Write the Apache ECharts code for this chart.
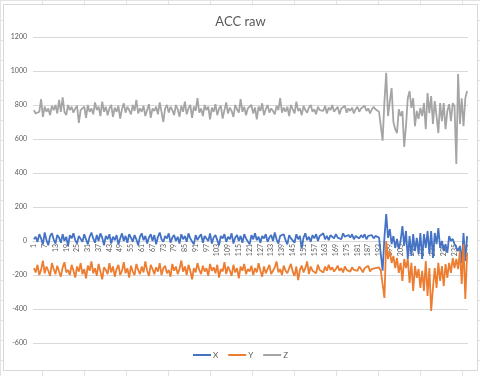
<!DOCTYPE html>
<html>
<head>
<meta charset="utf-8">
<script src="https://cdn.jsdelivr.net/npm/echarts@6/dist/echarts.min.js"></script>
<style>
    html, body { margin: 0; padding: 0; }
    body {
        width: 480px; height: 376px; overflow: hidden;
        background-color: #fff;
        background-image:
            linear-gradient(to right, #e3e3e3 1px, transparent 1px),
            linear-gradient(to bottom, #e3e3e3 1px, transparent 1px);
        background-size: 42px 20px;
        position: relative;
    }
    #chart {
        position: absolute; left: 3px; top: 4px;
        width: 473px; height: 365px;
        background: #fff; border: 1px solid #d9d9d9;
    }
</style>
</head>
<body>
<div id="chart"></div>
<script>
const seriesNames = ['X', 'Y', 'Z'];
const seriesColors = ['#4472C4', '#ED7D31', '#A5A5A5'];
const yTicks = { min: -600, max: 1200, step: 200 };

const xVals = [
    10, 25, -5, 40, 15, -20, 50, 5, -25, 30, 45, 10, -15, 35, 20, -10, 40, 0, 25, -30,
    35, 15, 45, 5, -15, 30, 20, -5, 40, 10, -20, 25, 50, 15, -10, 35, 0, 45, 20, -25,
    30, 10, 40, -15, 25, 5, 35, -20, 15, 45, 0, 30, -10, 40, 20, -5, 35, 10, -25, 25,
    45, 5, 30, -15, 20, 40, 0, 35, -20, 25, 50, 10, -5, 30, 15, 45, -10, 20, 35, 0,
    25, -15, 40, 10, 30, -5, 45, 15, 20, -20, 35, 5, 25, 40, -10, 30, 15, 0, 45, -15,
    20, 35, 5, -25, 30, 15, 40, -5, 25, 10, 45, -15, 20, 35, 0, 30, -10, 40, 15, 25,
    -20, 35, 10, 45, 5, 25, -10, 30, 15, 40, -5, 20, 35, 0, 50, 10, -15, 30, 20, 40,
    5, -20, 35, 15, 25, -10, 40, 10, 30, -45, 20, 45, 5, 25, -5, 35, 15, 40, 0, 30,
    20, 45, 10, 30, 5, 35, 25, 15, 40, 20, 30, 10, 45, 25, 15, 35, 20, 40, 10, 30,
    25, 15, 35, 20, 40, 10, 30, 20, 35, 15, 30, 25, 20, 30,
    -175, 20, 159, 18, 70, -18, 29, -41, 12, -47, 0, 88, -29, 59, -106, 29,
    -88, 41, -59, 18, -76, 47, -106, 41, -41, 59, -76, 59, -100, 47, -18, 76,
    -41, 0, -59, -18, -70, 29, 0, 12, -18, -12, -59, -29, -130, 47, -118, 29
];

const yVals = [
    -160, -185, -140, -200, -170, -115, -190, -150, -175, -205, -130, -165, -195, -145, -180, -210, -155, -125, -185, -170,
    -200, -140, -175, -215, -150, -180, -130, -195, -165, -220, -145, -175, -120, -190, -160, -205, -135, -180, -225, -155,
    -170, -195, -130, -185, -150, -210, -165, -140, -200, -175, -125, -190, -160, -215, -145, -180, -200, -135, -170, -195,
    -150, -185, -120, -175, -205, -140, -165, -195, -155, -180, -130, -200, -160, -145, -190, -170, -210, -135, -175, -150,
    -195, -165, -115, -180, -150, -200, -140, -175, -225, -160, -185, -130, -170, -195, -145, -180, -160, -205, -135, -175,
    -155, -190, -140, -215, -165, -180, -125, -195, -150, -175, -205, -140, -185, -160, -220, -150, -175, -135, -195, -165,
    -180, -145, -200, -160, -185, -130, -175, -210, -150, -190, -165, -140, -195, -175, -155, -120, -185, -165, -200, -145,
    -175, -190, -160, -135, -180, -205, -150, -230, -170, -145, -185, -160, -120, -195, -150, -175, -165, -190, -140, -170,
    -160, -185, -150, -175, -140, -170, -155, -180, -165, -145, -175, -160, -185, -150, -170, -165, -180, -155, -170, -160,
    -175, -150, -165, -185, -160, -170, -145, -180, -165, -175, -160, -170, -155, -175,
    -165, -335, 0, -106, -59, -129, -88, -159, -100, -188, -129, -235, -106, -159, -106, -247,
    -129, -294, -147, -217, -165, -276, -176, -294, -118, -323, -159, -412, -276, -159, -276, -129,
    -235, -147, -265, -135, -217, -129, -188, -100, -159, -106, -165, -60, -253, -20, -341, -76
];

const zVals = [
    770, 750, 745, 760, 835, 730, 790, 760, 780, 740, 795, 770, 800, 750, 830, 760, 845, 760, 740, 800,
    770, 790, 755, 780, 795, 695, 770, 760, 790, 725, 800, 760, 780, 745, 815, 770, 790, 735, 820, 760,
    790, 740, 780, 800, 730, 785, 760, 795, 720, 775, 810, 755, 790, 770, 745, 800, 765, 830, 750, 780,
    760, 795, 735, 770, 805, 725, 780, 765, 790, 745, 815, 760, 700, 780, 800, 755, 790, 770, 740, 800,
    775, 730, 795, 760, 820, 745, 780, 800, 725, 790, 765, 840, 755, 780, 735, 800, 770, 790, 715, 785,
    760, 805, 740, 780, 795, 720, 770, 815, 750, 785, 765, 730, 800, 775, 755, 835, 760, 790, 740, 780,
    770, 800, 750, 785, 715, 790, 765, 810, 740, 775, 800, 755, 780, 765, 745, 795, 770, 840, 755, 785,
    760, 790, 735, 800, 775, 750, 820, 765, 780, 740, 795, 770, 755, 785, 800, 760, 775, 745, 790, 770,
    780, 765, 795, 750, 785, 770, 800, 760, 775, 790, 745, 780, 770, 795, 755, 780, 765, 785, 750, 775,
    790, 760, 780, 770, 795, 765, 780, 750, 775, 790, 775, 765, 760, 770,
    590, 820, 990, 735, 820, 900, 700, 658, 635, 775, 735, 765, 553, 676, 840, 882,
    783, 840, 676, 765, 718, 783, 735, 811, 658, 870, 752, 852, 688, 823, 735, 635,
    811, 705, 811, 658, 765, 805, 705, 811, 793, 453, 982, 688, 840, 676, 840, 882
];

// sample numbers 1..N used as category labels
const categories = [];
for (let i = 1; i <= zVals.length; i++) categories.push(String(i));

// plot area height and where the value axis crosses zero, so the
// category axis (labels included) can sit on the zero line like in Excel
const gridTop = 32, gridBottom = 27, chartHeight = 365;
const plotH = chartHeight - gridTop - gridBottom;
const zeroFromBottom = plotH * (0 - yTicks.min) / (yTicks.max - yTicks.min);

const option = {
    animation: false,
    textStyle: { fontFamily: 'Lato, "Liberation Sans", sans-serif' },
    title: {
        text: 'ACC raw',
        left: 'center',
        top: 5,
        textStyle: { fontSize: 13, fontWeight: 'normal', color: '#595959' }
    },
    legend: {
        data: seriesNames,
        bottom: 6,
        left: 'center',
        icon: 'rect',
        itemWidth: 18,
        itemHeight: 2,
        itemGap: 10,
        textStyle: { fontSize: 8, color: '#595959', padding: [0, 0, 0, -3] }
    },
    grid: { left: 29, right: 9, top: gridTop, bottom: gridBottom },
    xAxis: {
        type: 'category',
        data: categories,
        boundaryGap: true,
        position: 'bottom',
        offset: -zeroFromBottom,
        axisLine: { onZero: false, lineStyle: { color: '#d9d9d9' } },
        axisTick: { show: false },
        axisLabel: {
            interval: 5,
            rotate: 90,
            fontSize: 7,
            color: '#595959',
            margin: 3
        },
        splitLine: { show: false }
    },
    yAxis: {
        type: 'value',
        min: yTicks.min,
        max: yTicks.max,
        interval: yTicks.step,
        axisLine: { show: false },
        axisTick: { show: false },
        axisLabel: {
            fontSize: 7, color: '#595959', margin: 6,
            formatter: function (v) { return String(v); }
        },
        splitLine: { lineStyle: { color: '#d9d9d9' } }
    },
    series: [xVals, yVals, zVals].map(function (vals, i) {
        return {
            name: seriesNames[i],
            type: 'line',
            data: vals,
            showSymbol: false,
            symbol: 'none',
            color: seriesColors[i],
            lineStyle: { width: 1.8, color: seriesColors[i] }
        };
    })
};

const chart = echarts.init(document.getElementById('chart'));
chart.setOption(option);
</script>
</body>
</html>
